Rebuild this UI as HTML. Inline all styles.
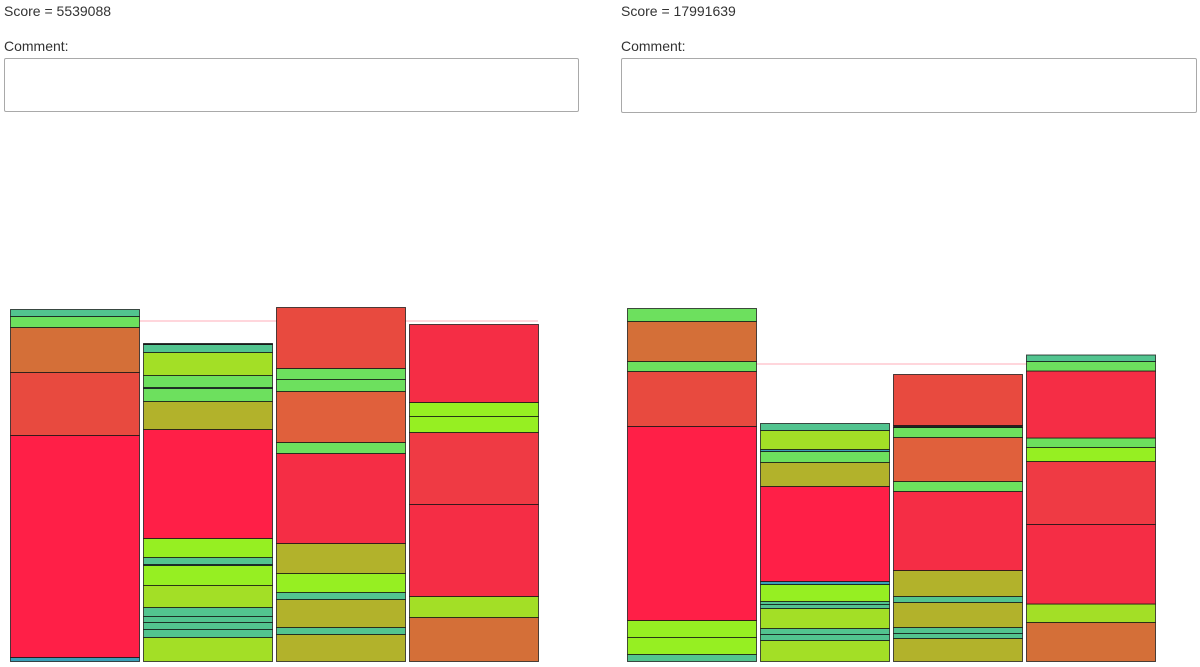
<!DOCTYPE html>
<html><head><meta charset="utf-8"><style>
body{margin:0;width:1200px;height:667px;overflow:hidden;background:#fff;font-family:"Liberation Sans",sans-serif;font-size:14px;color:#333;position:relative}
.t{position:absolute;white-space:nowrap}
.ta{position:absolute;border:1px solid #a9a9a9;border-radius:2px;box-sizing:border-box;background:#fff}
svg{position:absolute;left:0;top:0}
</style></head><body>
<div class="t" style="left:4px;top:3px">Score = 5539088</div>
<div class="t" style="left:4px;top:38px">Comment:</div>
<div class="ta" style="left:4px;top:58px;width:575px;height:54px"></div>
<div class="t" style="left:621px;top:3px">Score = 17991639</div>
<div class="t" style="left:621px;top:38px">Comment:</div>
<div class="ta" style="left:621px;top:58px;width:576px;height:55px"></div>
<svg id="chart" width="1200" height="667"></svg>
<script>
// segment heights, bottom-up, per column
const leftValues = [
  [4,222,63,45,11,7],
  [24,8,7,6,9,22,20,1,7,19,109,28,13,1,12,23,8,1],
  [27,7,28,7,19,30,90,11,51,12,11,61],
  [44,21,92,72,16,14,78]
];
const leftColors = [
  ['bl','r','ro','o','g','t'],
  ['yg','t','t','t','t','yg','l','bl','t','l','r','ol','g','bl','g','yg','t','k'],
  ['ol','t','ol','t','l','ol','r2','g','o2','g','g','ro'],
  ['o','yg','r2','rd','l','l','r2']
];
const rightValues = [
  [7,17,17,194,55,10,40,13],
  [21,6,6,20,4,3,17,3,95,24,11,2,19,7],
  [23,5,6,25,6,26,79,10,44,10,2,51],
  [39,18.5,79.5,63,14,9.5,67,9.5,6.5]
];
const rightColors = [
  ['t','l','l','r','ro','g','o','g'],
  ['yg','t','t','yg','t','t','l','bl','r','ol','g','bl','yg','t'],
  ['ol','t','t','ol','t','ol','r2','g','o2','g','k','ro'],
  ['o','yg','r2','rd','l','g','r2','g','t']
];
const leftRefLine = 340;
const rightRefLine = 297;
const palette = {t:'#52c48f',g:'#6de05e',o:'#d46f38',o2:'#e0603c',ro:'#e84a3f',r:'#ff1f47',r2:'#f52d45',rd:'#ef3a44',bl:'#3aa0b8',yg:'#a3df26',ol:'#b2b22b',l:'#96ef22',k:'#222'};

const svg = document.getElementById('chart');
const NS = 'http://www.w3.org/2000/svg';
const baseY = 661;
function yScale(v){ return baseY - v; }

function drawChart(values, colors, x0, ref, prefix){
  const line = document.createElementNS(NS,'line');
  
  
  line.setAttribute('x1', x0); line.setAttribute('x2', x0 + 4*133 - 4);
  line.setAttribute('y1', yScale(ref)); line.setAttribute('y2', yScale(ref));
  line.setAttribute('stroke', '#ffc8d0'); line.setAttribute('stroke-width', '1.5');
  svg.appendChild(line);
  values.forEach((col, ci) => {
    let cum = 0;
    const x = x0 + ci*133;
    col.forEach((v, si) => {
      const r = document.createElementNS(NS,'rect');
      
      
      r.setAttribute('x', x + 0.5);
      r.setAttribute('y', yScale(cum + v) + 0.5);
      r.setAttribute('width', 129);
      r.setAttribute('height', Math.max(v, 0.5));
      r.setAttribute('fill', palette[colors[ci][si]]);
      r.setAttribute('stroke', 'rgba(20,20,20,0.75)');
      r.setAttribute('stroke-width', '1');
      svg.appendChild(r);
      cum += v;
    });
  });
}
drawChart(leftValues, leftColors, 10, leftRefLine, 'left');
drawChart(rightValues, rightColors, 627, rightRefLine, 'right');
</script>
</body></html>
